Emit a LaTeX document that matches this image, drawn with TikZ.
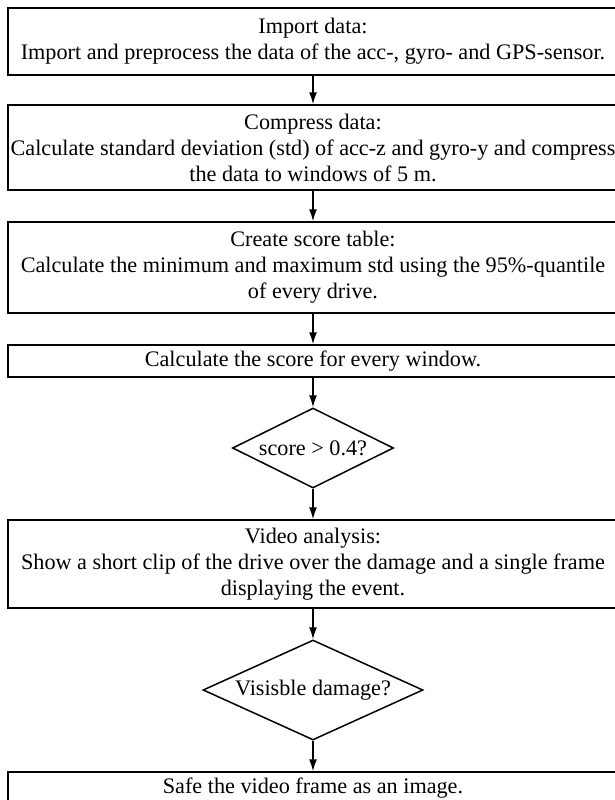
\documentclass[tikz,border=0pt]{standalone}
\usepackage{fontspec}
\setmainfont{Liberation Serif}
\usetikzlibrary{shapes.geometric,arrows.meta}

\tikzset{
    stepbox/.style={draw, line width=0.75pt, rectangle, minimum width=305pt,
        inner sep=0pt, align=center, font=\fontsize{11.1}{13}\selectfont},
    decision/.style={draw, line width=0.75pt, diamond, inner sep=0pt,
        align=center, font=\fontsize{11.1}{13}\selectfont},
    flow/.style={line width=0.75pt, -{Latex[length=6pt,width=4pt]}}
}

\begin{document}
\begin{tikzpicture}[x=0.5pt,y=-0.5pt]
    \useasboundingbox (0,0) rectangle (615,800);
    \clip (0,0) rectangle (615,800);

    % Processing steps
    \node[stepbox, minimum height=33.5pt] (import) at (313,41.5)
        {Import data:\\Import and preprocess the data of the acc-, gyro- and GPS-sensor.};
    \node[stepbox, minimum height=42.5pt] (compress) at (313,147.5)
        {Compress data:\\Calculate standard deviation (std) of acc-z and gyro-y and compress\\the data to windows of 5 m.};
    \node[stepbox, minimum height=45.5pt] (table) at (313,267.5)
        {Create score table:\\Calculate the minimum and maximum std using the 95\%-quantile\\of every drive.};
    \node[stepbox, minimum height=16pt] (score) at (313,361)
        {Calculate the score for every window.};

    % Decisions
    \node[decision, aspect=2, minimum width=80.5pt, minimum height=40pt] (thresh) at (313,448)
        {score > 0.4?};
    \node[stepbox, minimum height=44pt] (video) at (313,564)
        {Video analysis:\\Show a short clip of the drive over the damage and a single frame\\displaying the event.};
    \node[decision, aspect=2.2, minimum width=110pt, minimum height=50pt] (visible) at (313,690)
        {Visisble damage?};
    \node[stepbox, minimum height=16pt] (save) at (313,788)
        {Safe the video frame as an image.};

    % Connectors
    \foreach \a/\b in {import/compress, compress/table, table/score, score/thresh,
        thresh/video, video/visible, visible/save} {
        \draw[flow] (\a.south) -- (\b.north);
    }
\end{tikzpicture}
\end{document}
